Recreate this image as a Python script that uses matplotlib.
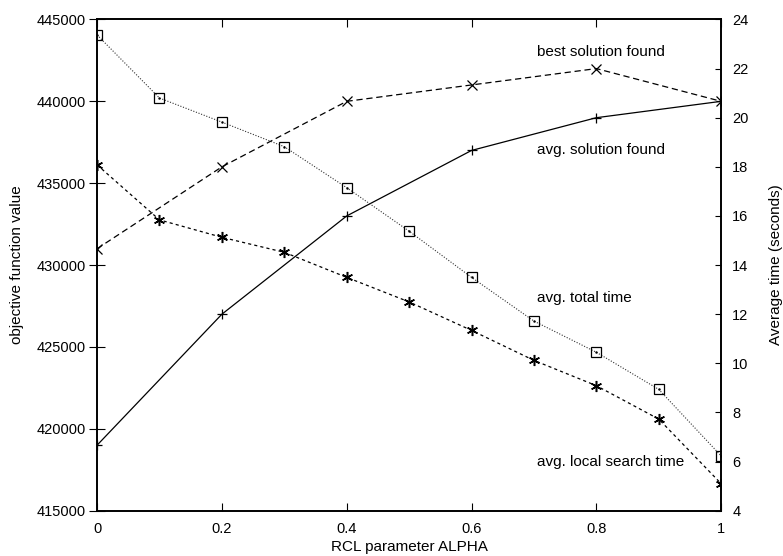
import matplotlib.pyplot as plt

plt.rcParams['font.family'] = ['Liberation Sans', 'DejaVu Sans']

# solution quality (left axis), alpha in steps of 0.2
alpha_sol = [0, 0.2, 0.4, 0.6, 0.8, 1.0]
best_sol = [431000, 436000, 440000, 441000, 442000, 440000]
avg_sol = [419000, 427000, 433000, 437000, 439000, 440000]

# times (right axis), alpha in steps of 0.1
alpha_time = [0, 0.1, 0.2, 0.3, 0.4, 0.5, 0.6, 0.7, 0.8, 0.9, 1.0]
total_time = [23.37, 20.8, 19.82, 18.82, 17.15, 15.38, 13.5, 11.72, 10.45, 8.94, 6.23]
ls_time = [18.08, 15.84, 15.13, 14.52, 13.5, 12.5, 11.34, 10.12, 9.09, 7.73, 5.1]

xticks = [0, 0.2, 0.4, 0.6, 0.8, 1.0]
xlabels = ['0', '0.2', '0.4', '0.6', '0.8', '1']
left_ticks = [415000, 420000, 425000, 430000, 435000, 440000, 445000]
right_ticks = [4, 6, 8, 10, 12, 14, 16, 18, 20, 22, 24]

fig = plt.figure(figsize=(7.83, 5.56), dpi=100)
ax = fig.add_axes([0.124, 0.0815, 0.797, 0.8835])
ax2 = ax.twinx()

ax.plot(alpha_sol, best_sol, color='black', lw=0.9, ls=(0, (5, 3)),
        marker='x', ms=7, mew=0.9)
ax.plot(alpha_sol, avg_sol, color='black', lw=0.9, ls='-',
        marker='+', ms=7, mew=0.9)
ax2.plot(alpha_time, total_time, color='#333333', lw=0.8, ls=(0, (1, 1.5)),
         marker='s', ms=7, mfc='none', mec='black', mew=0.9)
ax2.plot(alpha_time, total_time, ls='none', marker='.', ms=1.5, color='black')
ax2.plot(alpha_time, ls_time, color='black', lw=0.9, ls=(0, (2.5, 2.5)),
         marker=(6, 2, 0), ms=8, mec='black', mew=1.1)

ax.set_xlim(0, 1)
ax.set_ylim(415000, 445000)
ax2.set_ylim(4, 24)

ax.set_xticks(xticks)
ax.set_xticklabels(xlabels)
ax.set_yticks(left_ticks)
ax.set_yticklabels([str(v) for v in left_ticks])
ax2.set_yticks(right_ticks)
ax2.set_yticklabels([str(v) for v in right_ticks])

ax.tick_params(axis='x', direction='in', length=6, top=True, labelsize=10.5, pad=8)
ax.tick_params(axis='y', direction='inout', length=12, right=False, labelsize=10.5, pad=2)
ax2.tick_params(axis='y', direction='in', length=4, labelsize=10.5, pad=8)

for a in (ax, ax2):
    for s in a.spines.values():
        s.set_linewidth(1.2)

ax.set_xlabel('RCL parameter ALPHA', fontsize=11, labelpad=3)
ax.set_ylabel('objective function value', fontsize=11, labelpad=9)
ax2.set_ylabel('Average time (seconds)', fontsize=11, labelpad=15)

ax.text(0.705, 443000, 'best solution found', fontsize=11, va='center')
ax.text(0.705, 437000, 'avg. solution found', fontsize=11, va='center')
ax.text(0.705, 428000, 'avg. total time', fontsize=11, va='center')
ax.text(0.705, 418000, 'avg. local search time', fontsize=11, va='center')

fig.savefig('out.png', dpi=100)
